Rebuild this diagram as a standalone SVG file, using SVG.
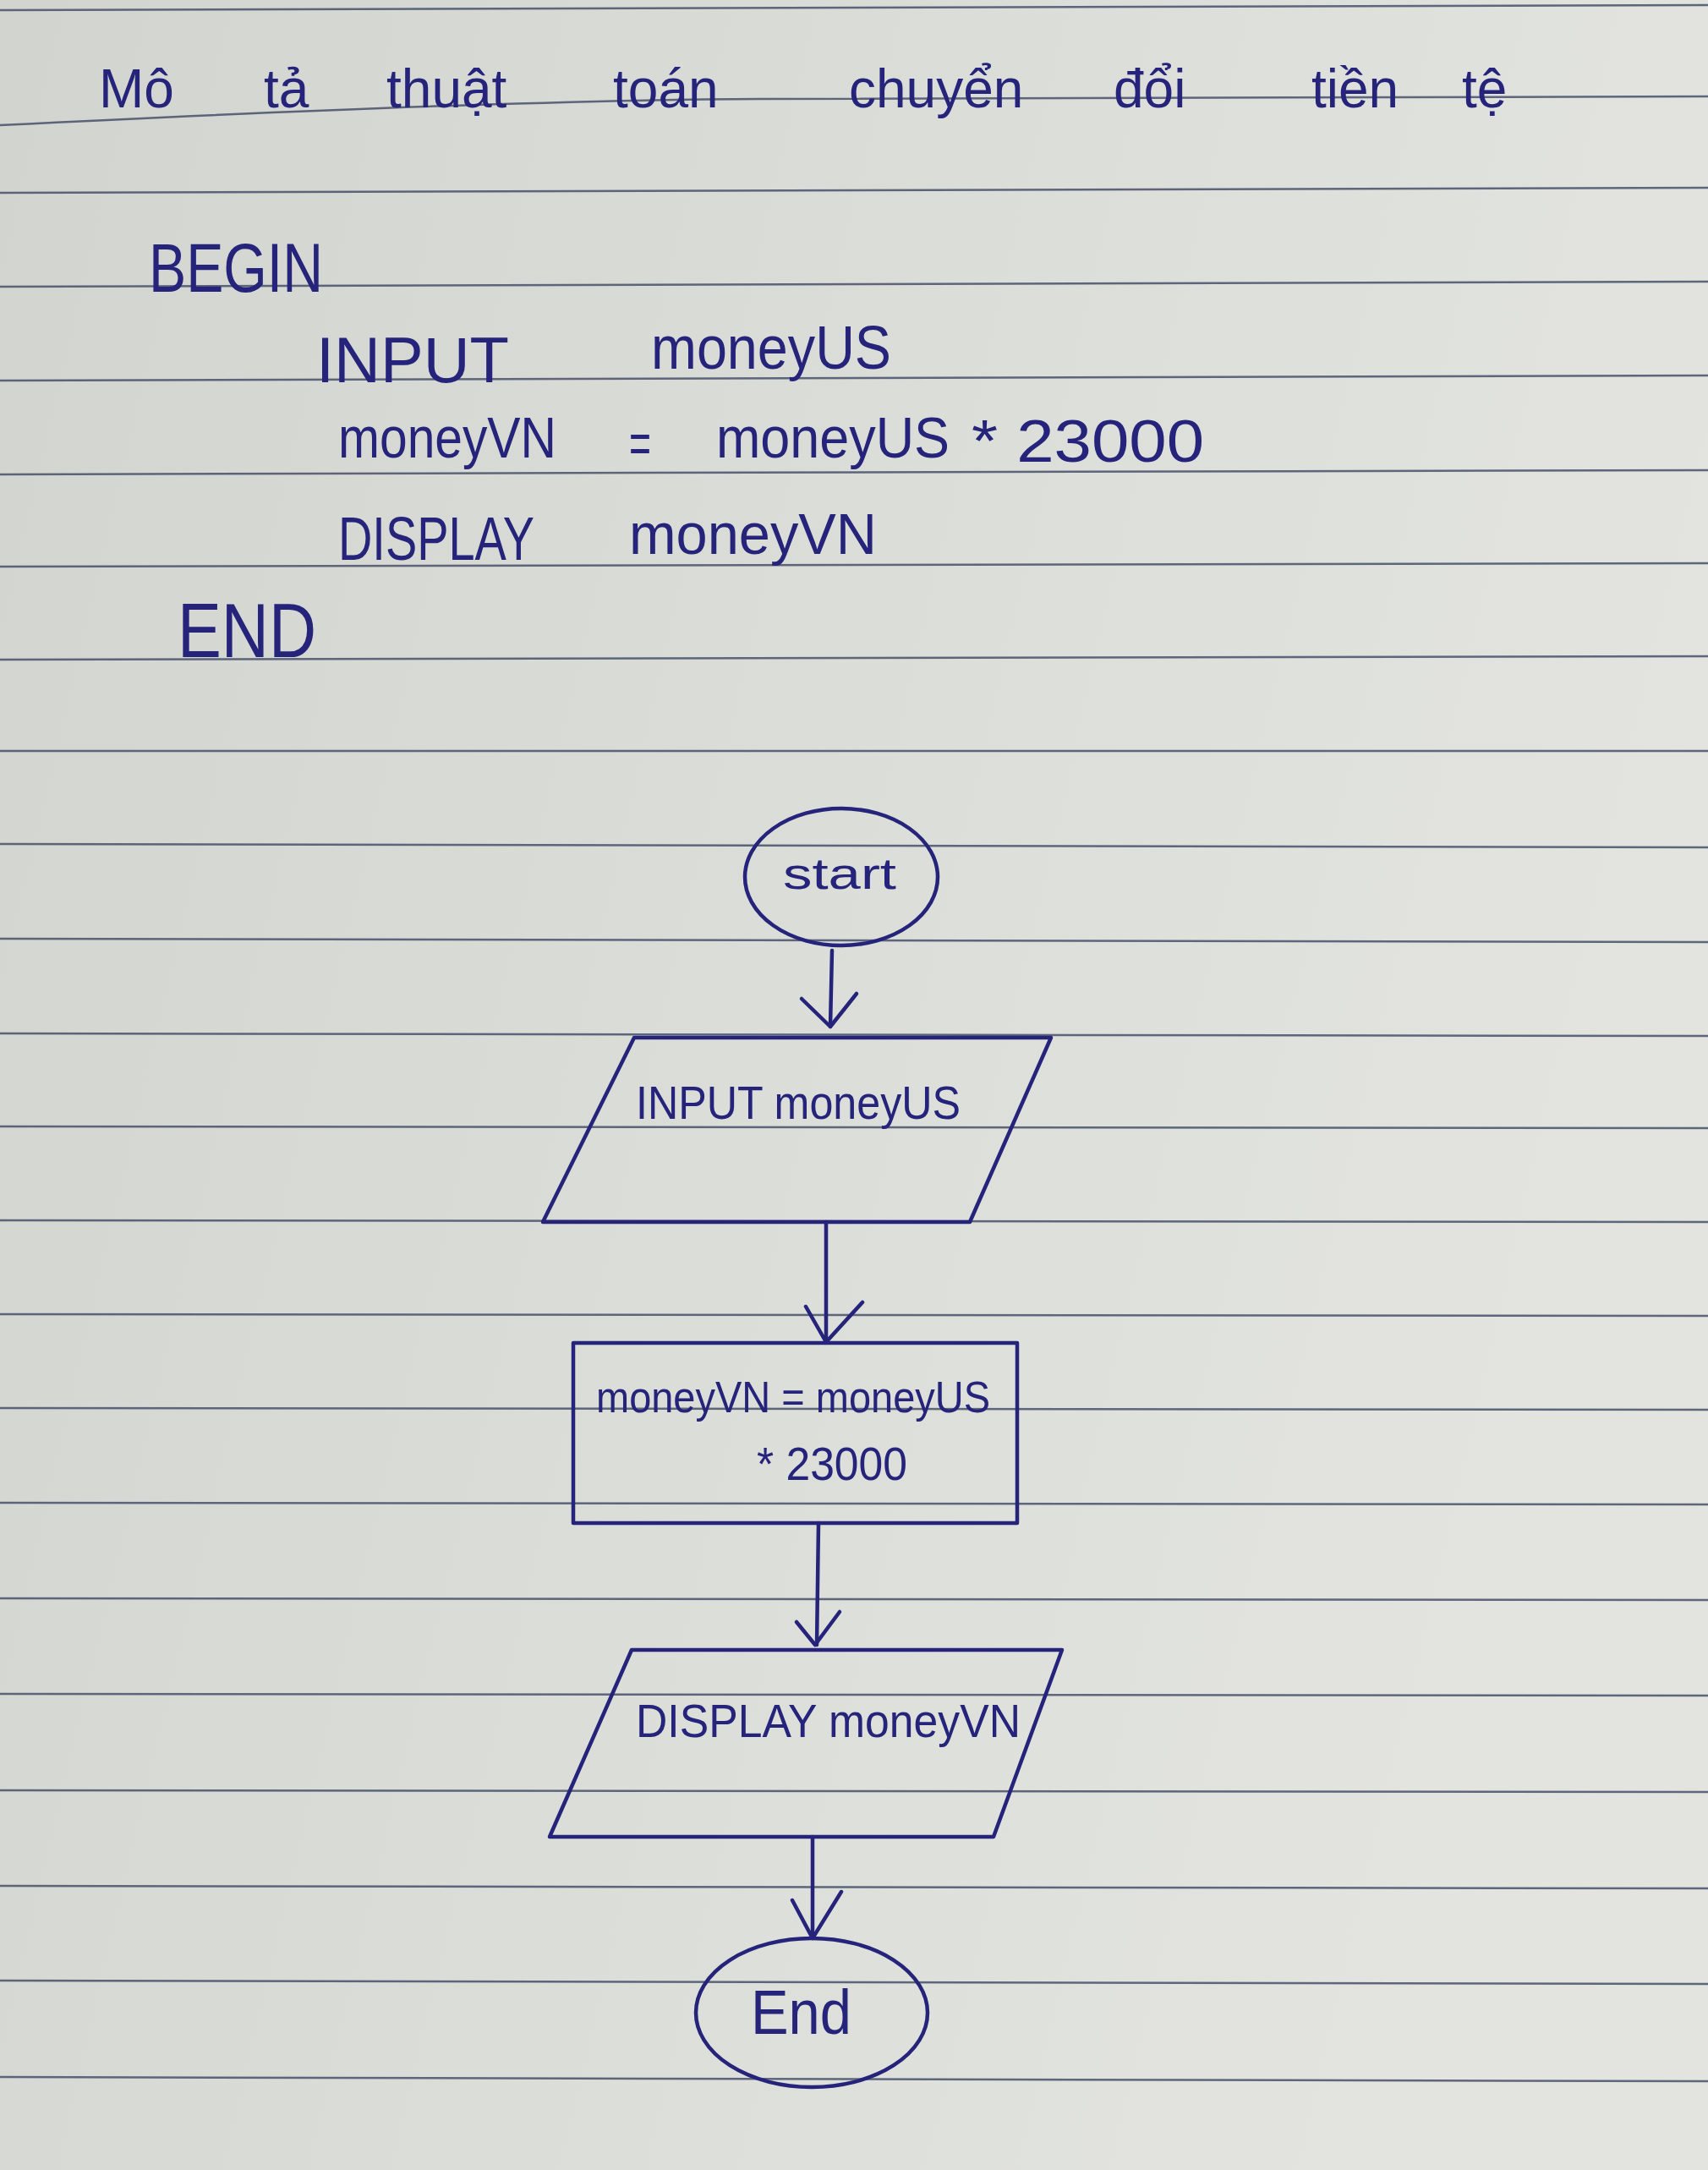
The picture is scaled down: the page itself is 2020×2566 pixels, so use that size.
<svg xmlns="http://www.w3.org/2000/svg" width="2020" height="2566" viewBox="0 0 2020 2566">
<defs>
<linearGradient id="paper" x1="0" y1="0" x2="1" y2="0.3">
<stop offset="0" stop-color="#d2d4d0"/>
<stop offset="0.6" stop-color="#dcdeda"/>
<stop offset="1" stop-color="#e3e4e0"/>
</linearGradient>
<style>
.rule{stroke:#46506a;stroke-width:2.5;fill:none;opacity:0.85}
.ink{stroke:#25237a;stroke-width:4.5;fill:none;stroke-linecap:round;stroke-linejoin:round}
.hw{font-family:"Liberation Sans","Noto Sans",sans-serif;fill:#25237a}
</style>
</defs>
<rect x="0" y="0" width="2020" height="2566" fill="url(#paper)"/>
<g id="ruled-lines">
<line class="rule" x1="0" y1="12" x2="2020" y2="6"/>
<path class="rule" d="M0 148 Q600 118 900 117 L2020 114"/>
<line class="rule" x1="0" y1="228" x2="2020" y2="222"/>
<line class="rule" x1="0" y1="339" x2="2020" y2="333"/>
<line class="rule" x1="0" y1="450" x2="2020" y2="444"/>
<line class="rule" x1="0" y1="561" x2="2020" y2="556"/>
<line class="rule" x1="0" y1="670" x2="2020" y2="666"/>
<line class="rule" x1="0" y1="780" x2="2020" y2="776"/>
<line class="rule" x1="0" y1="888" x2="2020" y2="888"/>
<line class="rule" x1="0" y1="998" x2="2020" y2="1002"/>
<line class="rule" x1="0" y1="1110" x2="2020" y2="1114"/>
<line class="rule" x1="0" y1="1222" x2="2020" y2="1225"/>
<line class="rule" x1="0" y1="1332" x2="2020" y2="1334"/>
<line class="rule" x1="0" y1="1443" x2="2020" y2="1445"/>
<line class="rule" x1="0" y1="1554" x2="2020" y2="1556"/>
<line class="rule" x1="0" y1="1665" x2="2020" y2="1667"/>
<line class="rule" x1="0" y1="1777" x2="2020" y2="1779"/>
<line class="rule" x1="0" y1="1890" x2="2020" y2="1892"/>
<line class="rule" x1="0" y1="2003" x2="2020" y2="2005"/>
<line class="rule" x1="0" y1="2117" x2="2020" y2="2119"/>
<line class="rule" x1="0" y1="2230" x2="2020" y2="2233"/>
<line class="rule" x1="0" y1="2342" x2="2020" y2="2346"/>
<line class="rule" x1="0" y1="2456" x2="2020" y2="2461"/>
</g>
<g id="title">
<text class="hw" font-size="64" y="127"><tspan x="117">Mô</tspan><tspan x="312">tả</tspan><tspan x="457">thuật</tspan><tspan x="725">toán</tspan><tspan x="1004">chuyển</tspan><tspan x="1317">đổi</tspan><tspan x="1551">tiền</tspan><tspan x="1729">tệ</tspan></text>
</g>
<g id="pseudocode">
<text class="hw" font-size="82" x="176" y="345" textLength="206" lengthAdjust="spacingAndGlyphs">BEGIN</text>
<text class="hw" font-size="76" x="374" y="452" textLength="228" lengthAdjust="spacingAndGlyphs">INPUT</text>
<text class="hw" font-size="72" x="770" y="436" textLength="284" lengthAdjust="spacingAndGlyphs">moneyUS</text>
<text class="hw" font-size="68" x="400" y="541" textLength="258" lengthAdjust="spacingAndGlyphs">moneyVN</text>
<text class="hw" font-size="68" x="744" y="548" textLength="26" lengthAdjust="spacingAndGlyphs">=</text>
<text class="hw" font-size="68" x="847" y="541" textLength="276" lengthAdjust="spacingAndGlyphs">moneyUS</text>
<text class="hw" font-size="70" x="1149" y="546" textLength="275" lengthAdjust="spacingAndGlyphs">* 23000</text>
<text class="hw" font-size="72" x="400" y="662" textLength="232" lengthAdjust="spacingAndGlyphs">DISPLAY</text>
<text class="hw" font-size="68" x="744" y="655" textLength="293" lengthAdjust="spacingAndGlyphs">moneyVN</text>
<text class="hw" font-size="90" x="210" y="777" textLength="164" lengthAdjust="spacingAndGlyphs">END</text>
</g>
<g id="connectors">
<line class="ink" x1="984" y1="1124" x2="982" y2="1214"/>
<polyline class="ink" points="948,1181 982,1214 1013,1175"/>
<line class="ink" x1="977" y1="1445" x2="977" y2="1587"/>
<polyline class="ink" points="953,1545 977,1587 1020,1540"/>
<line class="ink" x1="968" y1="1801" x2="966" y2="1945"/>
<polyline class="ink" points="942,1918 964,1945 993,1906"/>
<line class="ink" x1="961" y1="2172" x2="961" y2="2292"/>
<polyline class="ink" points="937,2247 961,2292 995,2237"/>
</g>
<g id="node-start">
<ellipse class="ink" cx="995" cy="1037" rx="114" ry="81"/>
<text class="hw" font-size="52" x="926" y="1051" textLength="134" lengthAdjust="spacingAndGlyphs">start</text>
</g>
<g id="node-input">
<polygon class="ink" points="750,1227 1243,1227 1147,1445 642,1445"/>
<text class="hw" font-size="56" x="752" y="1323" textLength="384" lengthAdjust="spacingAndGlyphs">INPUT moneyUS</text>
</g>
<g id="node-process">
<rect class="ink" x="678" y="1588" width="525" height="213"/>
<text class="hw" font-size="52" x="705" y="1670" textLength="466" lengthAdjust="spacingAndGlyphs">moneyVN = moneyUS</text>
<text class="hw" font-size="56" x="895" y="1750" textLength="178" lengthAdjust="spacingAndGlyphs">* 23000</text>
</g>
<g id="node-display">
<polygon class="ink" points="747,1951 1256,1951 1175,2172 650,2172"/>
<text class="hw" font-size="56" x="752" y="2054" textLength="455" lengthAdjust="spacingAndGlyphs">DISPLAY moneyVN</text>
</g>
<g id="node-end">
<ellipse class="ink" cx="960" cy="2380" rx="137" ry="88"/>
<text class="hw" font-size="74" x="888" y="2405" textLength="119" lengthAdjust="spacingAndGlyphs">End</text>
</g>
</svg>
